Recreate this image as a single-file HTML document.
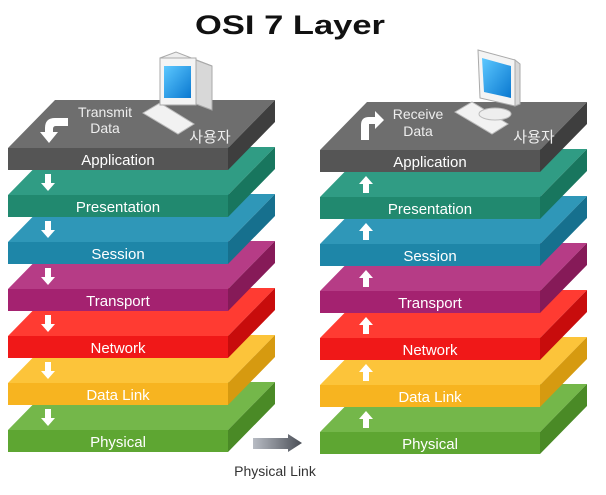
<!DOCTYPE html>
<html><head><meta charset="utf-8"><style>
html,body{margin:0;padding:0;background:#fff;width:606px;height:495px;overflow:hidden}
svg{display:block}
text{font-family:"Liberation Sans","Noto Sans CJK KR",sans-serif}
.l{fill:#fff;font-size:15px;text-anchor:middle}
</style></head><body>
<svg width="606" height="495" viewBox="0 0 606 495" xmlns="http://www.w3.org/2000/svg">
<defs>
<linearGradient id="ag" x1="0" y1="0" x2="1" y2="0"><stop offset="0" stop-color="#b8bcc4"/><stop offset="1" stop-color="#4a4e56"/></linearGradient>
<linearGradient id="sc" x1="0" y1="0" x2="1" y2="1"><stop offset="0" stop-color="#5cc8ff"/><stop offset="1" stop-color="#0a78d0"/></linearGradient>
<g id="dn"><polygon points="-3,0 3,0 3,9 7,9 0,17 -7,9 -3,9" fill="#fff"/></g>
<g id="up"><polygon points="-3,17 3,17 3,8 7,8 0,0 -7,8 -3,8" fill="#fff"/></g>
</defs>
<text x="290" y="34" font-size="27" font-weight="bold" text-anchor="middle" textLength="190" lengthAdjust="spacingAndGlyphs" fill="#111">OSI 7 Layer</text>

<!-- LEFT STACK -->
<g transform="translate(8,0)">
<g transform="translate(0,430)"><polygon points="0,0 47,-48 267,-48 220,0" fill="#74b74a"/><polygon points="220,0 267,-48 267,-26 220,22" fill="#4a8a26"/><rect width="220" height="22" fill="#5ea632"/><text class="l" x="110" y="17">Physical</text></g>
<g transform="translate(0,383)"><polygon points="0,0 47,-48 267,-48 220,0" fill="#fcc43a"/><polygon points="220,0 267,-48 267,-26 220,22" fill="#d69a10"/><rect width="220" height="22" fill="#f7b420"/><text class="l" x="110" y="17">Data Link</text></g>
<g transform="translate(0,336)"><polygon points="0,0 47,-48 267,-48 220,0" fill="#ff3b32"/><polygon points="220,0 267,-48 267,-26 220,22" fill="#c80c0c"/><rect width="220" height="22" fill="#f01818"/><text class="l" x="110" y="17">Network</text></g>
<g transform="translate(0,289)"><polygon points="0,0 47,-48 267,-48 220,0" fill="#b63c86"/><polygon points="220,0 267,-48 267,-26 220,22" fill="#861a58"/><rect width="220" height="22" fill="#a42270"/><text class="l" x="110" y="17">Transport</text></g>
<g transform="translate(0,242)"><polygon points="0,0 47,-48 267,-48 220,0" fill="#2f97b8"/><polygon points="220,0 267,-48 267,-26 220,22" fill="#16708e"/><rect width="220" height="22" fill="#1e86a8"/><text class="l" x="110" y="17">Session</text></g>
<g transform="translate(0,195)"><polygon points="0,0 47,-48 267,-48 220,0" fill="#309c84"/><polygon points="220,0 267,-48 267,-26 220,22" fill="#18765e"/><rect width="220" height="22" fill="#21896f"/><text class="l" x="110" y="17">Presentation</text></g>
<g transform="translate(0,148)"><polygon points="0,0 47,-48 267,-48 220,0" fill="#6e6e6e"/><polygon points="220,0 267,-48 267,-26 220,22" fill="#3e3e3e"/><rect width="220" height="22" fill="#555"/><text class="l" x="110" y="17">Application</text></g>
</g>
<use href="#dn" x="48" y="174"/><use href="#dn" x="48" y="221"/><use href="#dn" x="48" y="268"/><use href="#dn" x="48" y="315"/><use href="#dn" x="48" y="362"/><use href="#dn" x="48" y="409"/>
<path d="M45,140 L45,128 Q45,118 55,118 L68,118 L68,126 L56,126 Q53,126 53,129 L53,132 L58,132 L49,143 L40,132 L45,132 Z" fill="#fff"/>
<text x="105" y="117" fill="#eee" font-size="14" text-anchor="middle">Transmit</text>
<text x="105" y="133" fill="#eee" font-size="14" text-anchor="middle">Data</text>
<text x="210" y="142" fill="#eee" font-size="15" text-anchor="middle">사용자</text>
<!-- computer left -->
<g>
<polygon points="143,113 160,103 194,124 178,134" fill="#f2f2f2" stroke="#bbb"/>
<polygon points="196,60 212,66 212,110 196,104" fill="#d8d8d8" stroke="#aaa"/>
<polygon points="160,58 176,52 212,66 196,60" fill="#eee" stroke="#aaa"/>
<rect x="160" y="58" width="36" height="47" fill="#f4f4f4" stroke="#aaa"/>
<rect x="164" y="66" width="27" height="32" fill="url(#sc)"/>
</g>

<!-- RIGHT STACK -->
<g transform="translate(320,2)">
<g transform="translate(0,430)"><polygon points="0,0 47,-48 267,-48 220,0" fill="#74b74a"/><polygon points="220,0 267,-48 267,-26 220,22" fill="#4a8a26"/><rect width="220" height="22" fill="#5ea632"/><text class="l" x="110" y="17">Physical</text></g>
<g transform="translate(0,383)"><polygon points="0,0 47,-48 267,-48 220,0" fill="#fcc43a"/><polygon points="220,0 267,-48 267,-26 220,22" fill="#d69a10"/><rect width="220" height="22" fill="#f7b420"/><text class="l" x="110" y="17">Data Link</text></g>
<g transform="translate(0,336)"><polygon points="0,0 47,-48 267,-48 220,0" fill="#ff3b32"/><polygon points="220,0 267,-48 267,-26 220,22" fill="#c80c0c"/><rect width="220" height="22" fill="#f01818"/><text class="l" x="110" y="17">Network</text></g>
<g transform="translate(0,289)"><polygon points="0,0 47,-48 267,-48 220,0" fill="#b63c86"/><polygon points="220,0 267,-48 267,-26 220,22" fill="#861a58"/><rect width="220" height="22" fill="#a42270"/><text class="l" x="110" y="17">Transport</text></g>
<g transform="translate(0,242)"><polygon points="0,0 47,-48 267,-48 220,0" fill="#2f97b8"/><polygon points="220,0 267,-48 267,-26 220,22" fill="#16708e"/><rect width="220" height="22" fill="#1e86a8"/><text class="l" x="110" y="17">Session</text></g>
<g transform="translate(0,195)"><polygon points="0,0 47,-48 267,-48 220,0" fill="#309c84"/><polygon points="220,0 267,-48 267,-26 220,22" fill="#18765e"/><rect width="220" height="22" fill="#21896f"/><text class="l" x="110" y="17">Presentation</text></g>
<g transform="translate(0,148)"><polygon points="0,0 47,-48 267,-48 220,0" fill="#6e6e6e"/><polygon points="220,0 267,-48 267,-26 220,22" fill="#3e3e3e"/><rect width="220" height="22" fill="#555"/><text class="l" x="110" y="17">Application</text></g>
</g>
<use href="#up" x="366" y="176"/><use href="#up" x="366" y="223"/><use href="#up" x="366" y="270"/><use href="#up" x="366" y="317"/><use href="#up" x="366" y="364"/><use href="#up" x="366" y="411"/>
<path d="M361,140 L361,125 Q361,117 369,117 L375,117 L375,111 L384,120 L375,129 L375,124 L369,124 L369,140 Z" fill="#fff"/>
<text x="418" y="119" fill="#eee" font-size="14" text-anchor="middle">Receive</text>
<text x="418" y="136" fill="#eee" font-size="14" text-anchor="middle">Data</text>
<text x="534" y="142" fill="#eee" font-size="15" text-anchor="middle">사용자</text>
<g>
<polygon points="455,112 472,102 508,124 492,134" fill="#f2f2f2" stroke="#bbb"/>
<ellipse cx="495" cy="114" rx="16" ry="6" fill="#eee" stroke="#bbb"/>
<polygon points="515,60 520,64 520,104 515,106" fill="#d8d8d8" stroke="#aaa"/>
<polygon points="478,50 515,60 515,106 480,98" fill="#f4f4f4" stroke="#aaa"/>
<polygon points="482,58 511,66 511,98 484,92" fill="url(#sc)"/>
</g>

<!-- physical link -->
<polygon points="253,438 288,438 288,434 302,443 288,452 288,449 253,449" fill="url(#ag)"/>
<text x="275" y="476" font-size="14" text-anchor="middle" fill="#333">Physical Link</text>
</svg>
</body></html>
